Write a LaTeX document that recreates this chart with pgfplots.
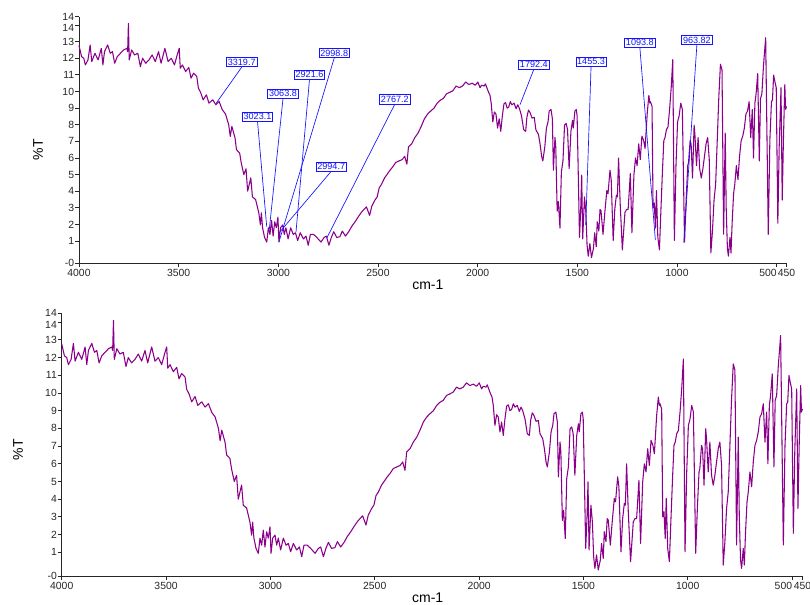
\documentclass[border=0pt]{standalone}
\usepackage{pgfplots}
\pgfplotsset{compat=1.18}
\usepackage{pgfplotstable}
\usepackage{fontspec}
\setmainfont{Liberation Sans}
\definecolor{spec}{RGB}{139,0,139}
\definecolor{ann}{RGB}{20,20,255}

\pgfplotstableread{
w y
4000 12.77
3987 12.1
3976 12.0
3968 11.6
3955 11.9
3944 12.8
3936 11.8
3920 12.3
3904 11.9
3888 12.6
3880 11.6
3872 12.4
3856 12.8
3843 12.3
3832 12.4
3821 11.7
3808 12.1
3792 12.3
3776 12.5
3760 12.6
3756 12.4
3752 14.1
3748 11.9
3736 12.5
3721 12.2
3705 12.3
3692 11.5
3681 12.0
3665 11.7
3649 11.9
3633 12.2
3617 11.8
3601 12.4
3588 11.7
3569 12.6
3553 11.8
3537 12.0
3521 11.6
3505 12.3
3497 12.6
3492 11.4
3481 11.6
3465 11.2
3449 11.45
3438 10.8
3425 11.1
3409 10.9
3401 10.2
3390 9.95
3377 9.5
3361 9.8
3348 9.3
3329 9.5
3313 9.2
3297 9.4
3281 8.9
3265 8.65
3249 8.0
3241 7.3
3233 7.9
3217 7.2
3210 6.5
3194 6.3
3186 5.7
3173 5.0
3162 5.35
3154 4.0
3138 4.8
3130 3.66
3114 3.5
3098 2.7
3090 1.97
3085 2.7
3079 1.8
3069 1.22
3058 0.94
3050 1.8
3042 1.4
3034 2.25
3026 1.3
3018 2.16
3010 1.8
3002 2.44
2997 0.94
2989 1.8
2978 1.97
2970 1.4
2962 1.8
2951 1.13
2938 1.8
2925 1.4
2914 1.5
2903 1.03
2890 1.5
2874 1.13
2861 1.3
2850 0.75
2839 1.4
2823 1.4
2807 1.22
2786 0.94
2770 1.22
2759 1.3
2746 0.75
2734 1.22
2722 1.56
2707 1.22
2691 1.26
2679 1.6
2663 1.3
2647 1.56
2632 1.88
2615 2.16
2600 2.44
2584 2.72
2571 2.9
2558 3.06
2542 2.54
2531 3.1
2515 3.47
2504 3.66
2494 4.2
2483 4.4
2467 4.8
2451 5.07
2440 5.26
2427 5.45
2411 5.73
2395 5.82
2379 5.9
2366 6.1
2355 5.63
2347 6.67
2331 6.85
2315 7.23
2299 7.5
2283 7.9
2267 8.36
2251 8.64
2235 8.83
2219 9.0
2203 9.3
2187 9.48
2172 9.58
2156 9.86
2140 9.95
2124 10.05
2108 10.33
2092 10.23
2076 10.33
2060 10.57
2044 10.42
2028 10.5
2012 10.38
1999 10.57
1988 10.23
1980 10.38
1967 10.33
1961 10.46
1951 10.14
1945 9.95
1938 9.77
1932 9.3
1924 8.17
1916 8.77
1908 8.64
1900 7.8
1892 8.36
1884 7.6
1876 8.54
1868 9.26
1860 9.33
1852 9.0
1844 9.07
1836 9.39
1828 9.2
1817 9.3
1807 8.96
1799 9.2
1791 9.0
1780 8.54
1769 7.7
1759 7.6
1753 8.45
1745 8.88
1737 8.73
1727 8.4
1716 8.45
1708 7.7
1695 7.42
1687 6.85
1679 6.1
1673 5.82
1663 6.67
1655 7.8
1647 8.17
1641 8.83
1632 8.92
1625 8.36
1620 5.26
1612 7.23
1608 6.67
1601 2.8
1595 3.38
1587 1.78
1580 5.16
1572 5.82
1564 7.98
1556 8.08
1549 7.7
1541 5.35
1532 7.6
1524 8.26
1520 7.8
1512 8.83
1505 8.92
1501 8.54
1496 5.54
1489 1.22
1483 2.9
1478 4.97
1473 1.13
1464 3.66
1457 2.72
1451 0.75
1445 0.09
1437 0.85
1429 0.0
1419 0.56
1413 1.5
1405 0.66
1400 2.16
1392 1.6
1386 2.9
1381 2.82
1371 1.4
1362 2.72
1352 4.04
1346 3.85
1336 5.26
1330 4.7
1320 1.03
1312 2.9
1304 3.76
1299 3.66
1293 6.0
1285 3.29
1274 0.47
1261 2.72
1253 2.9
1245 2.9
1234 5.07
1226 1.5
1216 4.97
1208 6.0
1200 5.54
1192 6.85
1184 5.9
1176 7.32
1167 7.04
1160 6.57
1149 8.73
1141 9.77
1136 9.3
1133 9.39
1125 9.1
1120 3.0
1114 3.29
1108 1.78
1103 4.04
1096 1.22
1088 0.47
1081 2.72
1073 5.16
1066 7.04
1060 7.23
1053 7.7
1045 7.88
1037 8.92
1029 10.23
1021 11.92
1013 1.03
1005 5.54
997 8.17
989 8.54
981 9.3
973 8.92
962 0.94
954 3.47
946 5.54
942 5.73
934 7.04
929 6.85
922 4.79
914 7.98
910 7.42
902 5.54
894 7.23
886 5.35
878 4.79
870 5.35
862 6.1
854 6.85
846 7.23
838 5.9
830 0.28
822 1.6
814 3.47
806 4.41
798 7.04
790 9.67
782 11.64
774 11.3
766 1.41
758 7.5
753 2.98
747 0.56
742 0.09
734 1.22
729 0.28
723 2.16
716 3.85
710 4.41
702 5.54
694 4.7
686 6.1
678 7.04
670 7.32
662 7.8
654 8.64
646 8.83
638 9.39
630 7.23
622 8.92
616 6.0
609 9.3
603 9.86
595 11.08
587 5.82
581 9.58
574 9.86
566 11.55
555 13.24
542 1.41
534 7.04
526 9.39
521 9.48
515 10.99
509 10.61
502 10.23
494 2.07
487 6.76
478 10.23
472 3.47
466 7.04
459 10.42
455 8.92
450 9.1
}\spectrum

\pgfplotsset{irstyle/.style={
  scale only axis,
  x dir=reverse, xmin=450, xmax=4000, ymin=-0.34, ymax=14.5,
  axis x line=bottom, axis y line=left,
  axis line style={-, black!85, line width=0.6pt},
  tick align=outside, major tick length=3pt,
  tick style={black!85, line width=0.6pt},
  xtick={4000,3500,3000,2500,2000,1500,1000,500,450},
  xticklabels={4000,3500,3000,2500,2000,1500,1000,\makebox[0pt][r]{500},450},
  ytick={-0.34,1,2,3,4,5,6,7,8,9,10,11,12,13,14.5},
  yticklabels={-0,1,2,3,4,5,6,7,8,9,10,11,12,13,14},
  extra y ticks={14}, extra y tick labels={14},
  extra y tick style={yticklabel style={yshift=-2pt}},
  tick label style={font=\fontsize{7.8}{9}\selectfont, text=black!85},
  yticklabel style={inner sep=0.5pt},
  xticklabel style={inner sep=1.5pt},
  label style={font=\fontsize{10.5}{12}\selectfont},
  xlabel={cm-1}, ylabel={\%T},
  clip=false,
}}
\tikzset{annot/.style={draw=ann, fill=white, text=ann, inner sep=1pt, line width=0.5pt,
  font=\fontsize{6.8}{8}\selectfont}}

\begin{document}
\begin{tikzpicture}
\useasboundingbox (0,0) rectangle (607.5pt,-453.75pt);
% top panel
\begin{axis}[irstyle,
  at={(59.25pt,-197.5pt)}, anchor=south west,
  width=530.7pt, height=184.95pt,
  xlabel style={at={(axis description cs:0.493,-0.088)}, anchor=center},
  ylabel style={at={(axis description cs:-0.058,0.46)}, anchor=center}]
\addplot[spec, line width=0.8pt, line join=round] table[x=w,y=y]{\spectrum};
\node[annot] (a1) at (axis cs:3183.6,11.76) {3319.7};
\draw[ann, line width=0.5pt] (a1.south) -- (axis cs:3312.6,9.28);
\node[annot] (a2) at (axis cs:3104.4,8.49) {3023.1};
\draw[ann, line width=0.5pt] (a2.south) -- (axis cs:3058.2,1.87);
\node[annot] (a3) at (axis cs:2976.4,9.87) {3063.8};
\draw[ann, line width=0.5pt] (a3.south) -- (axis cs:3045.2,1.71);
\node[annot] (a4) at (axis cs:2843.5,11.03) {2921.6};
\draw[ann, line width=0.5pt] (a4.south) -- (axis cs:2911.2,1.56);
\node[annot] (a5) at (axis cs:2719.5,12.31) {2998.8};
\draw[ann, line width=0.5pt] (a5.south) -- (axis cs:2996.5,0.96);
\node[annot] (a6) at (axis cs:2734.6,5.49) {2994.7};
\draw[ann, line width=0.5pt] (a6.south) -- (axis cs:2991.5,1.56);
\node[annot] (a7) at (axis cs:2415.5,9.53) {2767.2};
\draw[ann, line width=0.5pt] (a7.south) -- (axis cs:2757.2,1.17);
\node[annot] (a8) at (axis cs:1718,11.63) {1792.4};
\draw[ann, line width=0.5pt] (a8.south) -- (axis cs:1787.3,9.21);
\node[annot] (a9) at (axis cs:1431,11.8) {1455.3};
\draw[ann, line width=0.5pt] (a9.south) -- (axis cs:1457.6,1.97);
\node[annot] (a10) at (axis cs:1186.2,12.95) {1093.8};
\draw[ann, line width=0.5pt] (a10.south) -- (axis cs:1108.4,1.06);
\node[annot] (a11) at (axis cs:900.2,13.09) {963.82};
\draw[ann, line width=0.5pt] (a11.south) -- (axis cs:965.9,0.9);
\end{axis}
% bottom panel
\begin{axis}[irstyle,
  at={(46.3pt,-432pt)}, anchor=south west,
  width=555.6pt, height=197pt,
  xlabel style={at={(axis description cs:0.494,-0.084)}, anchor=center},
  ylabel style={at={(axis description cs:-0.059,0.48)}, anchor=center}]
\addplot[spec, line width=0.8pt, line join=round] table[x=w,y=y]{\spectrum};
\end{axis}
\end{tikzpicture}
\end{document}
